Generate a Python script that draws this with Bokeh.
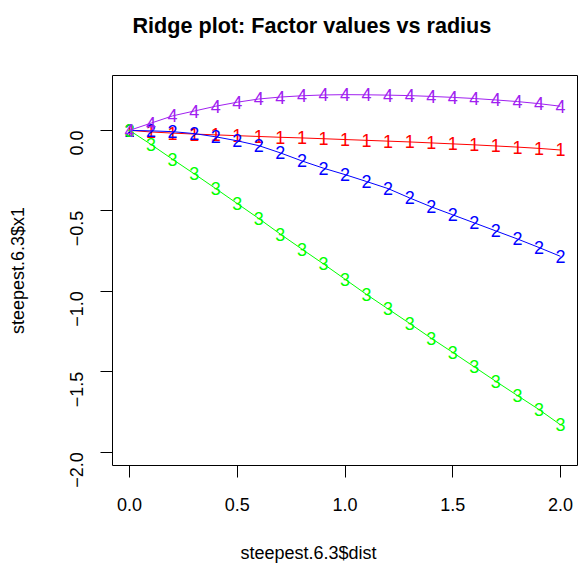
import math
from bokeh.plotting import figure
from bokeh.models import Range1d, FixedTicker, CustomJSTickFormatter, Title, ColumnDataSource
from bokeh.core.properties import value
from bokeh.embed import file_html
from bokeh.resources import INLINE

# ---- data ----
dist = [0.0, 0.1, 0.2, 0.3, 0.4, 0.5, 0.6, 0.7, 0.8, 0.9, 1.0,
        1.1, 1.2, 1.3, 1.4, 1.5, 1.6, 1.7, 1.8, 1.9, 2.0]
factor1 = [0.0, -0.010, -0.017, -0.023, -0.028, -0.033, -0.038, -0.043, -0.047, -0.052, -0.057,
           -0.062, -0.067, -0.072, -0.078, -0.084, -0.090, -0.097, -0.104, -0.112, -0.122]
factor2 = [0.0, -0.003, -0.008, -0.020, -0.040, -0.065, -0.095, -0.140, -0.190, -0.235, -0.275,
           -0.318, -0.362, -0.420, -0.475, -0.525, -0.575, -0.625, -0.675, -0.728, -0.783]
factor3 = [0.0, -0.088, -0.180, -0.270, -0.362, -0.455, -0.548, -0.645, -0.738, -0.830, -0.925,
           -1.020, -1.110, -1.200, -1.292, -1.380, -1.470, -1.560, -1.648, -1.735, -1.830]
factor4 = [0.0, 0.045, 0.090, 0.120, 0.150, 0.175, 0.195, 0.207, 0.215, 0.220, 0.222,
           0.221, 0.219, 0.216, 0.211, 0.205, 0.198, 0.189, 0.179, 0.166, 0.150]
series_labels = ["1", "2", "3", "4"]
series_colors = ["#FF0000", "#0000FF", "#00FF00", "#A020F0"]
x_ticks = [0.0, 0.5, 1.0, 1.5, 2.0]
y_ticks = [-2.0, -1.5, -1.0, -0.5, 0.0]

title_text = "Ridge plot: Factor values vs radius"
x_label = "steepest.6.3$dist"
y_label = "steepest.6.3$x1"

FONT = "Liberation Sans"

p = figure(width=579, height=563, output_backend="svg", toolbar_location=None,
           x_range=Range1d(-0.079, 2.079), y_range=Range1d(-2.083, 0.341),
           min_border_left=112, min_border_right=2, min_border_top=75, min_border_bottom=97,
           background_fill_color="white", border_fill_color="white")

p.grid.visible = False
p.outline_line_color = "black"
p.outline_line_width = 1

fmt = CustomJSTickFormatter(code="return tick.toFixed(1).replace('-', '\\u2212');")

for ax, ticks in ((p.xaxis[0], x_ticks), (p.yaxis[0], y_ticks)):
    ax.ticker = FixedTicker(ticks=ticks)
    ax.formatter = fmt
    ax.minor_tick_line_color = None
    ax.major_tick_in = 0
    ax.major_tick_out = 12
    ax.major_tick_line_color = "black"
    ax.axis_line_color = None
    ax.major_label_text_font = FONT
    ax.major_label_text_font_size = "18px"
    ax.major_label_text_color = "black"

p.xaxis[0].major_label_standoff = 20
p.yaxis[0].major_label_orientation = math.pi / 2
p.yaxis[0].major_label_standoff = 24
p.yaxis[0].axis_label = y_label
p.yaxis[0].axis_label_text_font = FONT
p.yaxis[0].axis_label_text_font_size = "18px"
p.yaxis[0].axis_label_text_font_style = "normal"
p.yaxis[0].axis_label_text_color = "black"
p.yaxis[0].axis_label_standoff = 33

# trailing empty line lifts the title away from the frame
p.title.text = title_text + "\n"
p.title.text_font = FONT
p.title.text_font_size = "21.6px"
p.title.text_font_style = "bold"
p.title.text_color = "black"
p.title.align = "left"
p.title.offset = 20
p.title.vertical_align = "top"
p.title.standoff = 21

# leading empty line pushes the x label down toward the page bottom
xt = Title(text="\n" + x_label, text_font=FONT, text_font_size="18px", text_font_style="normal",
           text_color="black", align="left", offset=128, standoff=2, vertical_align="bottom",
           text_line_height=1.3)
p.add_layout(xt, "below")

for lab, col, ys in zip(series_labels, series_colors, [factor1, factor2, factor3, factor4]):
    src = ColumnDataSource(dict(x=dist, y=ys, t=[lab] * len(dist)))
    p.line("x", "y", source=src, line_color=col, line_width=1)
    p.text("x", "y", text="t", source=src, text_color=col, text_font=value(FONT),
           text_font_size="18px", text_align="center", text_baseline="middle")

open("out.html", "w").write(file_html(p, INLINE))
